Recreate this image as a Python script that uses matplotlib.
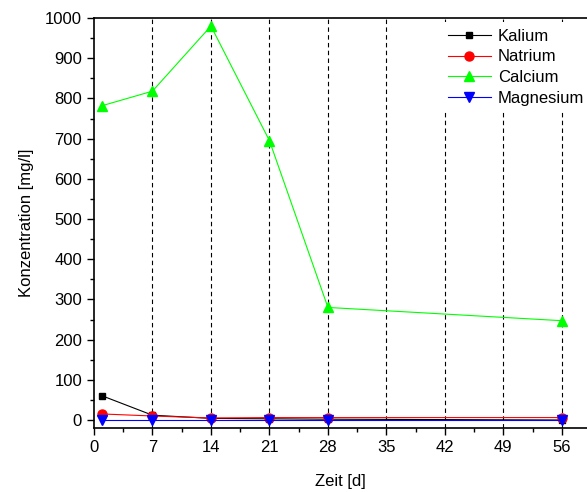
import matplotlib
matplotlib.use("Agg")
import matplotlib.pyplot as plt

plt.rcParams['font.family'] = ['Liberation Sans', 'DejaVu Sans']

days = [1, 7, 14, 21, 28, 56]
kalium = [60, 12, 4, 3, 2, 0]
natrium = [15, 10, 5, 6, 6, 6]
calcium = [782, 818, 980, 695, 280, 247]
magnesium = [0, 0, 0, 0, 0, 0]
x_ticks = [0, 7, 14, 21, 28, 35, 42, 49, 56]
y_ticks = list(range(0, 1001, 100))

fig = plt.figure(figsize=(5.87, 4.92), dpi=100)
ax = fig.add_axes([0.160, 0.130, 0.840, 0.8334])

fs = 12
for xv in x_ticks[1:]:
    ax.axvline(xv, color='black', linestyle=(0, (4, 3)), linewidth=0.8, zorder=0)

lw = 0.8
ax.plot(days, kalium, color='black', marker='s', markersize=5, linewidth=lw, label='Kalium', zorder=3)
ax.plot(days, natrium, color='#ff0000', marker='o', markersize=6.5, linewidth=lw, label='Natrium', zorder=3)
ax.plot(days, calcium, color='#00ff00', marker='^', markersize=7, linewidth=lw, label='Calcium', zorder=3)
ax.plot(days, magnesium, color='#0000ff', marker='v', markersize=7, linewidth=lw, label='Magnesium', zorder=3)

ax.set_xlim(0, 59)
ax.set_ylim(-20, 1000)
ax.set_xticks(x_ticks)
ax.set_xticks([3.5 + 7 * i for i in range(8)], minor=True)
ax.set_yticks(y_ticks)
ax.set_yticks([50 + 100 * i for i in range(10)], minor=True)
ax.tick_params(axis='both', which='major', direction='out', length=5, width=1, labelsize=fs)
ax.tick_params(axis='both', which='minor', direction='out', length=3, width=1)
ax.tick_params(axis='y', which='both', right=False)
ax.tick_params(axis='x', which='both', top=False)
ax.spines['right'].set_visible(False)
for s in ['left', 'bottom', 'top']:
    ax.spines[s].set_linewidth(1.2)

ax.set_xlabel('Zeit [d]', fontsize=fs, labelpad=14)
ax.set_ylabel('Konzentration [mg/l]', fontsize=fs, labelpad=8)

leg = ax.legend(loc='upper left', bbox_to_anchor=(441 / 587, (492 - 22) / 492),
                bbox_transform=fig.transFigure, frameon=True, fontsize=fs,
                handlelength=2.58, handletextpad=0.42, labelspacing=0.34,
                borderpad=0.4, borderaxespad=0, fancybox=False)
leg.get_frame().set_facecolor('white')
leg.get_frame().set_edgecolor('none')
leg.get_frame().set_alpha(1.0)

fig.savefig('out.png', dpi=100)
